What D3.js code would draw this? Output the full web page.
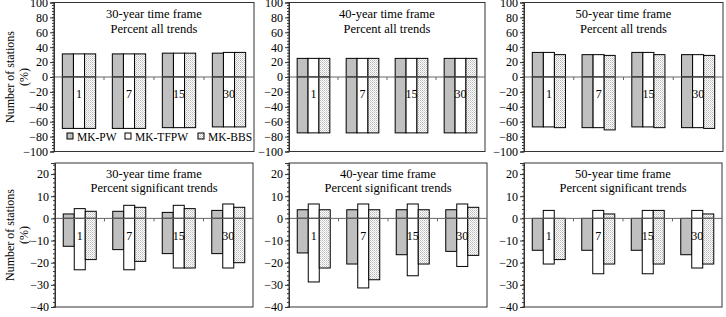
<!DOCTYPE html>
<html><head><meta charset="utf-8">
<script src="https://cdn.jsdelivr.net/npm/d3@7"></script>
<style>
body{margin:0;background:#fff;}
text{font-family:"Liberation Serif","Times New Roman","DejaVu Serif",serif;}
</style></head>
<body><svg id="c" width="726" height="317"></svg>
<script>
// ---- data ----
const categories = ["1", "7", "15", "30"];
const series = ["MK-PW", "MK-TFPW", "MK-BBS"];
const frames = ["30-year time frame", "40-year time frame", "50-year time frame"];
const rowTitles = ["Percent all trends", "Percent significant trends"];
const topTicks = [100, 80, 60, 40, 20, 0, -20, -40, -60, -80, -100];
const botTicks = [20, 10, 0, -10, -20, -30, -40];

// rows of each array: MK-PW, MK-TFPW, MK-BBS ; columns: categories
const allPos30 = [[31, 31, 32, 32], [31, 31, 32, 33], [31, 31, 32, 33]];
const allNeg30 = [[-69, -69, -68, -67], [-69, -69, -68, -67], [-69, -69, -68, -67]];
const allPos40 = [[25, 25, 25, 25], [25, 25, 25, 25], [25, 25, 25, 25]];
const allNeg40 = [[-75, -75, -75, -75], [-75, -75, -75, -75], [-75, -75, -75, -75]];
const allPos50 = [[33, 30, 33, 30], [33, 30, 33, 30], [30, 29, 30, 29]];
const allNeg50 = [[-67, -68, -67, -68], [-67, -68, -67, -68], [-68, -71, -68, -69]];

const sigPos30 = [[2, 3.2, 2.7, 3.6], [4.4, 5.9, 5.9, 6.5], [3.2, 5, 4.4, 5]];
const sigNeg30 = [[-12.6, -14.1, -15.9, -15.9], [-23.2, -23.2, -22.4, -22.4], [-18.6, -19.4, -22.4, -20]];
const sigPos40 = [[3.9, 3.9, 3.9, 3.9], [6.5, 6.5, 6.5, 6.5], [3.9, 3.9, 3.9, 5]];
const sigNeg40 = [[-15.6, -20.6, -16.4, -14.9], [-28.7, -31.4, -25.9, -21.7], [-22.4, -27.7, -20.6, -16.7]];
const sigPos50 = [[0, 0, 0, 0], [3.6, 3.6, 3.6, 3.6], [0, 2, 3.6, 2]];
const sigNeg50 = [[-14.4, -14.4, -14.4, -16.4], [-20.6, -25, -25, -22.4], [-18.6, -20.6, -20.6, -20.6]];

// ---- drawing ----
const FONT = "Liberation Serif, Times New Roman, DejaVu Serif, serif";
const svg = d3.select("#c");
const root = svg.append("g").attr("font-family", FONT);
const defs = svg.append("defs");
const pat = defs.append("pattern").attr("id", "dots").attr("patternUnits", "userSpaceOnUse")
  .attr("width", 2).attr("height", 2);
pat.append("rect").attr("width", 2).attr("height", 2).attr("fill", "#fff");
pat.append("rect").attr("x", 0).attr("y", 0).attr("width", 1).attr("height", 1).attr("fill", "#b8b8b8");
pat.append("rect").attr("x", 1).attr("y", 1).attr("width", 1).attr("height", 1).attr("fill", "#d4d4d4");
const fills = ["#c0c0c0", "#ffffff", "url(#dots)"];

const rows = [
  {top: 2.5, bottom: 151.5, domain: [-100, 100], ticks: topTicks, minor: 4, titleY: [17.5, 32.5], labelY: 98,
   panels: [[54, 254], [289, 485], [524, 723]],
   pos: [allPos30, allPos40, allPos50], neg: [allNeg30, allNeg40, allNeg50]},
  {top: 163, bottom: 307, domain: [-40, 25], ticks: botTicks, minor: 2, titleY: [177.5, 191.5], labelY: 240,
   panels: [[55, 253], [289, 487], [524, 722]],
   pos: [sigPos30, sigPos40, sigPos50], neg: [sigNeg30, sigNeg40, sigNeg50]}
];

rows.forEach((row, ri) => {
  const y = d3.scaleLinear().domain(row.domain).range([row.bottom, row.top]);
  row.panels.forEach((px, pi) => {
    const g = root.append("g");
    const x = d3.scaleBand().domain(categories).range(px).paddingInner(1 / 3).paddingOuter(1 / 6);
    const xs = d3.scaleBand().domain(series).range([0, x.bandwidth()]);
    // plot border
    g.append("rect").attr("x", px[0]).attr("y", row.top).attr("width", px[1] - px[0])
      .attr("height", row.bottom - row.top).attr("fill", "none").attr("stroke", "#333").attr("stroke-width", 1);
    // bars
    series.forEach((s, si) => {
      categories.forEach((c, ci) => {
        const pv = row.pos[pi][si][ci], nv = row.neg[pi][si][ci];
        const bx = x(c) + xs(s);
        if (pv > 0) g.append("rect").attr("x", bx).attr("y", y(pv)).attr("width", xs.bandwidth())
          .attr("height", y(0) - y(pv)).attr("fill", fills[si]).attr("stroke", "#000").attr("stroke-width", 1);
        if (nv < 0) g.append("rect").attr("x", bx).attr("y", y(0)).attr("width", xs.bandwidth())
          .attr("height", y(nv) - y(0)).attr("fill", fills[si]).attr("stroke", "#000").attr("stroke-width", 1);
      });
    });
    // zero line with category ticks
    g.append("line").attr("x1", px[0]).attr("x2", px[1]).attr("y1", y(0)).attr("y2", y(0))
      .attr("stroke", "#666").attr("stroke-width", 1);
    categories.slice(1).forEach(c => {
      const tx = x(c) - (x.step() - x.bandwidth()) / 2;
      g.append("line").attr("x1", tx).attr("x2", tx).attr("y1", y(0)).attr("y2", y(0) + 3)
        .attr("stroke", "#666").attr("stroke-width", 1);
    });
    // category labels
    categories.forEach(c => {
      g.append("text").attr("x", x(c) + x.bandwidth() / 2).attr("y", row.labelY)
        .attr("text-anchor", "middle").attr("font-size", 12).text(c);
    });
    // y axis
    const minorVals = d3.range(row.domain[0], row.domain[1] + 0.001, row.minor);
    g.selectAll(null).data(minorVals).enter().append("line")
      .attr("x1", px[0] - 2).attr("x2", px[0]).attr("y1", d => y(d)).attr("y2", d => y(d))
      .attr("stroke", "#333");
    const ax = g.append("g").attr("transform", `translate(${px[0]},0)`)
      .call(d3.axisLeft(y).tickValues(row.ticks).tickSize(4).tickPadding(2).tickFormat(d3.format("d")));
    ax.attr("font-family", FONT).attr("font-size", 12);
    ax.select(".domain").attr("stroke", "#333");
    ax.selectAll(".tick line").attr("stroke", "#333");
    ax.selectAll("text").attr("fill", "#000");
    // titles
    const cx = (px[0] + px[1]) / 2;
    g.append("text").attr("x", cx).attr("y", row.titleY[0]).attr("text-anchor", "middle")
      .attr("font-size", 12.5).text(frames[pi]);
    g.append("text").attr("x", cx).attr("y", row.titleY[1]).attr("text-anchor", "middle")
      .attr("font-size", 12.5).text(rowTitles[ri]);
  });
  // y axis title
  const cy = (row.top + row.bottom) / 2;
  root.append("text").attr("transform", `translate(13.5,${cy}) rotate(-90)`)
    .attr("text-anchor", "middle").attr("font-size", 12).text("Number of stations");
  root.append("text").attr("transform", `translate(28,${cy}) rotate(-90)`)
    .attr("text-anchor", "middle").attr("font-size", 12).text("(%)");
});

// legend
const legX = [67, 125, 198];
series.forEach((s, i) => {
  root.append("rect").attr("x", legX[i]).attr("y", 133).attr("width", 6).attr("height", 6)
    .attr("fill", fills[i]).attr("stroke", "#000");
  root.append("text").attr("x", legX[i] + 10).attr("y", 140.5).attr("font-size", 11.5).text(s);
});

// x axis title (mostly cut at the bottom edge)
root.append("text").attr("x", 388).attr("y", 326).attr("text-anchor", "middle").attr("font-size", 12)
  .text("n-day low flows");
</script>
</body></html>
